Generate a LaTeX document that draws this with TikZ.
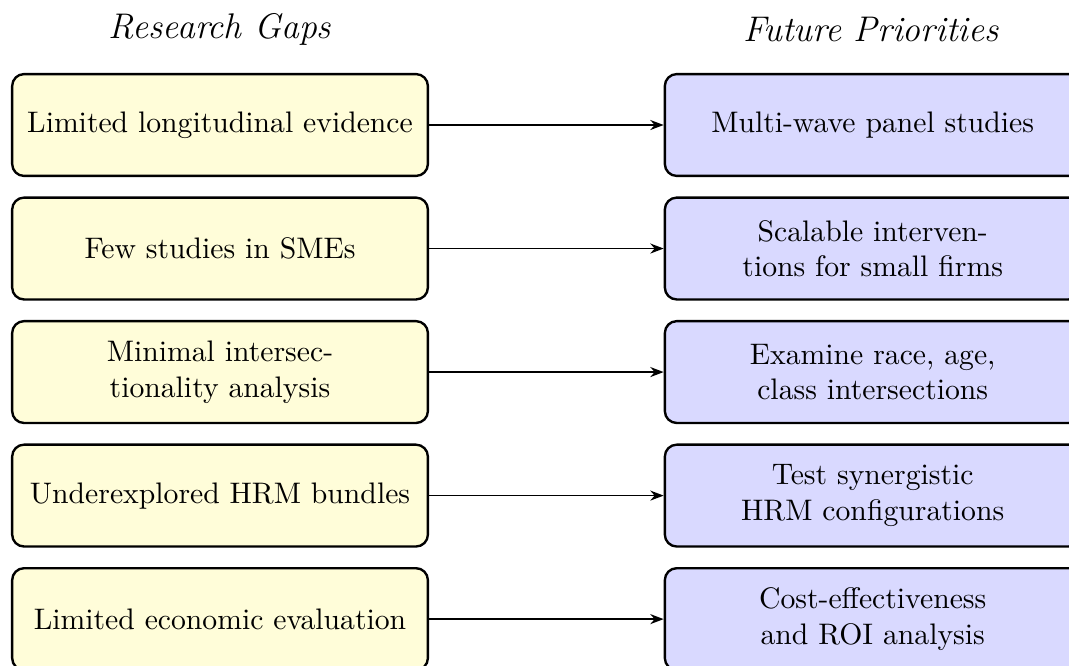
\documentclass[tikz,border=0pt]{standalone}
\usepackage{xcolor}
\usepackage{tikz}
\usetikzlibrary{arrows.meta,positioning}

\begin{document}
\begin{tikzpicture}[x=1pt, y=1pt, >={Stealth[length=4.5pt]},
        gapbox/.style={draw, thick, rounded corners, fill=yellow!15, align=center,
            minimum width=140pt, minimum height=34.3pt, inner sep=2pt},
        priobox/.style={gapbox, fill=blue!15},
        colhead/.style={font=\large\itshape}]
        \useasboundingbox (0,0) rectangle (360,-224.2);

        \node[colhead] (gapshead) at (74.1,-10) {Research Gaps};
        \node[colhead] (priohead) at (293.3,-10) {Future Priorities};

        \node[gapbox] (gap1) at (74.1,-42.1) {Limited longitudinal evidence};
        \node[gapbox, below=6.5pt of gap1] (gap2) {Few studies in SMEs};
        \node[gapbox, below=6.5pt of gap2] (gap3) {Minimal intersec-\\tionality analysis};
        \node[gapbox, below=6.5pt of gap3] (gap4) {Underexplored HRM bundles};
        \node[gapbox, below=6.5pt of gap4] (gap5) {Limited economic evaluation};

        \node[priobox, right=79pt of gap1] (prio1) {Multi-wave panel studies};
        \node[priobox, right=79pt of gap2] (prio2) {Scalable interven-\\tions for small firms};
        \node[priobox, right=79pt of gap3] (prio3) {Examine race, age,\\class intersections};
        \node[priobox, right=79pt of gap4] (prio4) {Test synergistic\\HRM configurations};
        \node[priobox, right=79pt of gap5] (prio5) {Cost-effectiveness\\and ROI analysis};

        \foreach \i in {1,...,5}
            \draw[->, semithick] (gap\i) -- (prio\i);
    \end{tikzpicture}
\end{document}
